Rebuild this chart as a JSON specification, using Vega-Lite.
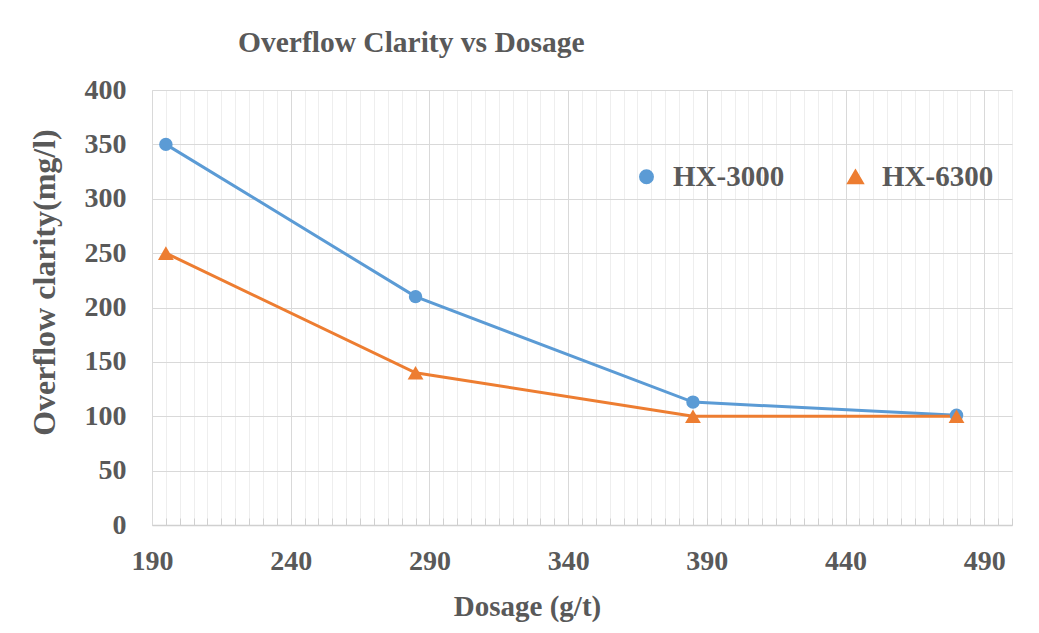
{
  "$schema": "https://vega.github.io/schema/vega-lite/v6.json",
  "width": 860,
  "height": 435,
  "autosize": {"type": "none"},
  "padding": {"left": 152, "top": 90, "right": 27, "bottom": 108},
  "background": "#ffffff",
  "config": {"view": {"stroke": null}},
  "title": {
    "text": "Overflow Clarity vs Dosage",
    "anchor": "start",
    "frame": "group",
    "dx": 86,
    "dy": 43,
    "offset": 38,
    "baseline": "alphabetic",
    "font": "Liberation Serif",
    "fontSize": 29.5,
    "fontWeight": "bold",
    "color": "#595959"
  },
  "data": {
    "values": [
      {"series": "HX-3000", "dosage": 195, "clarity": 350},
      {"series": "HX-3000", "dosage": 285, "clarity": 210},
      {"series": "HX-3000", "dosage": 385, "clarity": 113},
      {"series": "HX-3000", "dosage": 480, "clarity": 101},
      {"series": "HX-6300", "dosage": 195, "clarity": 250},
      {"series": "HX-6300", "dosage": 285, "clarity": 140},
      {"series": "HX-6300", "dosage": 385, "clarity": 100},
      {"series": "HX-6300", "dosage": 480, "clarity": 100}
    ]
  },
  "encoding": {
    "x": {
      "field": "dosage",
      "type": "quantitative",
      "scale": {"domain": [190, 500], "nice": false, "zero": false},
      "axis": {
        "values": [190,195,200,205,210,215,220,225,230,235,240,245,250,255,260,265,270,275,280,285,290,295,300,305,310,315,320,325,330,335,340,345,350,355,360,365,370,375,380,385,390,395,400,405,410,415,420,425,430,435,440,445,450,455,460,465,470,475,480,485,490,495,500],
        "format": "d",
        "labelExpr": "(datum.value - 190) % 50 === 0 ? datum.label : ''",
        "labelOverlap": false,
        "labelFlush": false,
        "labelFont": "Liberation Serif",
        "labelFontSize": 28,
        "labelFontWeight": "bold",
        "labelColor": "#595959",
        "labelPadding": 29,
        "grid": true,
        "gridColor": {"condition": {"test": "(datum.value - 190) % 50 === 0", "value": "#d9d9d9"}, "value": "#eeeeee"},
        "gridWidth": 1,
        "domainColor": "#d0d0d0",
        "domainWidth": 1.5,
        "ticks": true,
        "tickColor": "#d0d0d0",
        "tickSize": -7,
        "title": "Dosage (g/t)",
        "titleX": 375,
        "titleY": 81,
        "titleBaseline": "middle",
        "titleAlign": "center",
        "titleFont": "Liberation Serif",
        "titleFontSize": 29,
        "titleFontWeight": "bold",
        "titleColor": "#595959"
      }
    },
    "y": {
      "field": "clarity",
      "type": "quantitative",
      "scale": {"domain": [0, 400], "nice": false},
      "axis": {
        "values": [0, 50, 100, 150, 200, 250, 300, 350, 400],
        "labelFont": "Liberation Serif",
        "labelFontSize": 28,
        "labelFontWeight": "bold",
        "labelColor": "#595959",
        "labelPadding": 26,
        "ticks": false,
        "grid": true,
        "gridColor": "#d9d9d9",
        "gridWidth": 1,
        "domainColor": "#d9d9d9",
        "title": "Overflow clarity(mg/l)",
        "titleX": -108,
        "titleY": 192,
        "titleAngle": 270,
        "titleBaseline": "middle",
        "titleAlign": "center",
        "titleFont": "Liberation Serif",
        "titleFontSize": 32,
        "titleFontWeight": "bold",
        "titleColor": "#595959"
      }
    }
  },
  "layer": [
    {
      "mark": {"type": "line", "strokeWidth": 3},
      "encoding": {
        "color": {
          "field": "series",
          "type": "nominal",
          "scale": {"domain": ["HX-3000", "HX-6300"], "range": ["#5B9BD5", "#ED7D31"]},
          "legend": {
            "orient": "none",
            "legendX": 480,
            "legendY": 72,
            "direction": "horizontal",
            "title": null,
            "labelFont": "Liberation Serif",
            "labelFontSize": 29,
            "labelFontWeight": "bold",
            "labelColor": "#595959",
            "labelOffset": 12,
            "columnPadding": 56
          }
        }
      }
    },
    {
      "mark": {"type": "point", "filled": true, "opacity": 1},
      "encoding": {
        "color": {"field": "series", "type": "nominal", "legend": null},
        "shape": {
          "field": "series",
          "type": "nominal",
          "scale": {"domain": ["HX-3000", "HX-6300"], "range": ["circle", "triangle-up"]},
          "legend": null
        },
        "size": {
          "field": "series",
          "type": "nominal",
          "scale": {"domain": ["HX-3000", "HX-6300"], "range": [180, 250]},
          "legend": null
        }
      }
    }
  ]
}
